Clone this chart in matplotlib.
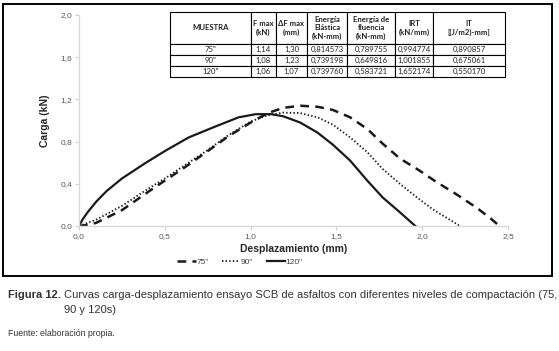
import matplotlib
matplotlib.use("Agg")
import matplotlib.pyplot as plt
from matplotlib.patches import Rectangle
from matplotlib.ticker import FuncFormatter

plt.rcParams['font.family'] = ['Liberation Sans', 'DejaVu Sans']

# ---- data ----
x75 = [0.0, 0.05, 0.10, 0.25, 0.40, 0.50, 0.62, 0.75, 0.87, 1.00, 1.10, 1.19, 1.29, 1.39,
       1.48, 1.58, 1.68, 1.77, 1.87, 1.98, 2.08, 2.20, 2.32, 2.40, 2.45]
y75 = [0.0, 0.01, 0.03, 0.15, 0.32, 0.43, 0.56, 0.71, 0.85, 0.98, 1.07, 1.12, 1.14, 1.13,
       1.10, 1.03, 0.92, 0.78, 0.64, 0.53, 0.42, 0.30, 0.17, 0.07, 0.0]

x90 = [0.0, 0.05, 0.10, 0.25, 0.40, 0.50, 0.62, 0.75, 0.87, 1.00, 1.10, 1.19, 1.29, 1.39,
       1.48, 1.58, 1.68, 1.77, 1.87, 1.97, 2.06, 2.16, 2.22]
y90 = [0.0, 0.03, 0.06, 0.19, 0.35, 0.45, 0.58, 0.72, 0.86, 0.99, 1.05, 1.075, 1.07, 1.03,
       0.96, 0.84, 0.70, 0.54, 0.40, 0.27, 0.16, 0.06, 0.0]

x120 = [0.0, 0.02, 0.05, 0.10, 0.16, 0.25, 0.39, 0.50, 0.64, 0.79, 0.93, 1.03, 1.12, 1.19,
        1.29, 1.39, 1.48, 1.58, 1.68, 1.77, 1.87, 1.96]
y120 = [0.0, 0.06, 0.13, 0.23, 0.33, 0.45, 0.60, 0.71, 0.84, 0.94, 1.03, 1.06, 1.06, 1.04,
        0.98, 0.885, 0.77, 0.62, 0.43, 0.27, 0.13, 0.0]

labels = ['75"', '90"', '120"']

xticks = [0.0, 0.5, 1.0, 1.5, 2.0, 2.5]
yticks = [0.0, 0.4, 0.8, 1.2, 1.6, 2.0]

# table
col_labels = ['MUESTRA', 'F max\n(kN)', '\u0394F max\n(mm)', 'Energía\nElástica\n(kN-mm)',
              'Energía de\nfluencia\n(kN-mm)', 'IRT\n(kN/mm)', 'IT\n[(J/m2)-mm]']
muestra = ['75"', '90"', '120"']
f_max = ['1,14', '1,08', '1,06']
df_max = ['1,30', '1,23', '1,07']
e_elastica = ['0,814573', '0,739198', '0,739760']
e_fluencia = ['0,789755', '0,649816', '0,583721']
irt = ['0,994774', '1,001855', '1,652174']
it = ['0,890857', '0,675061', '0,550170']

W, H = 559, 351
fig = plt.figure(figsize=(W / 100, H / 100), dpi=100)

def fx(px):
    return px / W

def fy(py):
    return 1 - py / H

# outer frame
fig.patches.append(Rectangle((fx(3), fy(276)), fx(552) - fx(3), fy(4) - fy(276),
                             transform=fig.transFigure, fill=False, ec='black', lw=1.4))

ax = fig.add_axes([fx(79), fy(226), fx(508) - fx(79), fy(15) - fy(226)])
l1, = ax.plot(x75, y75, color='#1a1a1a', lw=1.8, ls=(0, (3.5, 2.5)))
l2, = ax.plot(x90, y90, color='#1a1a1a', lw=1.3, ls=(0, (0.8, 1.2)))
l3, = ax.plot(x120, y120, color='#1a1a1a', lw=1.6, ls='-')

ax.set_xlim(0, 2.5)
ax.set_ylim(0, 2.0)
ax.set_xticks(xticks)
ax.set_yticks(yticks)
fmt = FuncFormatter(lambda v, p: f"{v:.1f}".replace('.', ','))
ax.xaxis.set_major_formatter(fmt)
ax.yaxis.set_major_formatter(fmt)
for s in ['top', 'right']:
    ax.spines[s].set_visible(False)
for s in ['left', 'bottom']:
    ax.spines[s].set_color('#d9d9d9')
    ax.spines[s].set_linewidth(1.0)
ax.tick_params(axis='both', colors='#d0d0d0', labelcolor='#595959', labelsize=6,
               length=3, width=0.8, pad=2)
ax.set_xlabel('Desplazamiento (mm)', fontsize=7.5, fontweight='bold', color='#262626', labelpad=3)
ax.set_ylabel('Carga (kN)', fontsize=7.5, fontweight='bold', color='#262626', labelpad=7)

fig.legend([l1, l2, l3], labels, loc='center', bbox_to_anchor=(fx(240), fy(262)), ncol=3,
           frameon=False, fontsize=6, handlelength=2.2, handletextpad=0.1,
           columnspacing=1.6, labelcolor='#404040')

# table
tleft, tright, ttop, tbot = 170, 505, 12, 77
tax = fig.add_axes([fx(tleft), fy(tbot), fx(tright) - fx(tleft), fy(ttop) - fy(tbot)])
tax.axis('off')
rows = [list(r) for r in zip(muestra, f_max, df_max, e_elastica, e_fluencia, irt, it)]
colw = [81, 25, 31, 40, 48, 38, 72]
tot = sum(colw)
tbl = tax.table(cellText=rows, colLabels=col_labels, colWidths=[c / tot for c in colw],
                cellLoc='center', bbox=[0, 0, 1, 1])
tbl.auto_set_font_size(False)
hh = 32 / 65
rh = 11 / 65
for (r, c), cell in tbl.get_celld().items():
    cell.set_linewidth(0.8)
    cell.set_edgecolor('black')
    txt = cell.get_text()
    txt.set_fontsize(5.6)
    txt.set_family(['Lato', 'DejaVu Sans'])
    txt.set_color('#222222')
    if r == 0:
        cell.set_height(hh)
        txt.set_fontweight('bold')
        txt.set_linespacing(1.25)
    else:
        cell.set_height(rh)

# caption
cap_y = fy(295)
cap_fs = 8
t1 = fig.text(fx(8), cap_y, 'Figura 12.', fontsize=cap_fs, fontweight='bold', color='#333333',
              va='center', ha='left')
fig.canvas.draw()
bb = t1.get_window_extent()
x2 = bb.x1 / fig.dpi / fig.get_figwidth() + 3 / W
fig.text(x2, cap_y,
         'Curvas carga-desplazamiento ensayo SCB de asfaltos con diferentes niveles de compactación (75,',
         fontsize=cap_fs, color='#333333', va='center', ha='left')
fig.text(x2, fy(310), '90 y 120s)', fontsize=cap_fs, color='#333333', va='center', ha='left')
fig.text(fx(8), fy(333), 'Fuente: elaboración propia.', fontsize=6.3, color='#333333',
         va='center', ha='left')

fig.savefig('out.png', dpi=100)
